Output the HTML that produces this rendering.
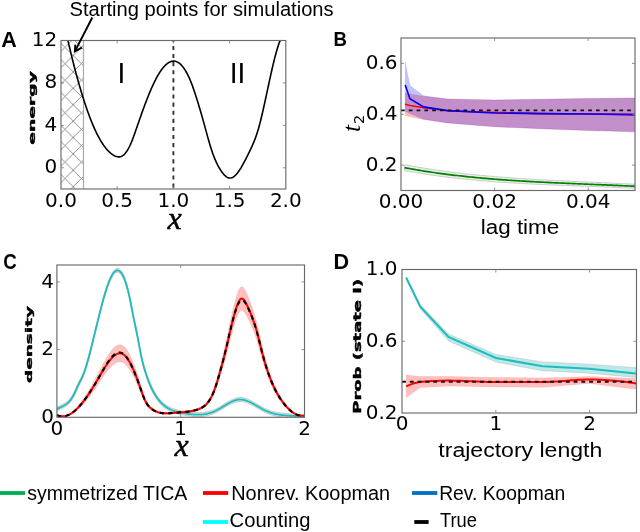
<!DOCTYPE html>
<html><head><meta charset="utf-8"><title>Figure</title>
<style>html,body{margin:0;padding:0;background:#fff;width:640px;height:532px;overflow:hidden}svg{display:block}</style>
</head><body>
<svg width="640" height="532" viewBox="0 0 640 532"><defs><pattern id="hat" patternUnits="userSpaceOnUse" width="16.4" height="16.4" x="56.8" y="55.5"><path d="M0,0L16.4,16.4M0,16.4L16.4,0M-1,1L1,-1M15.4,17.4L17.4,15.4" stroke="#7a7a7a" stroke-width="0.85" fill="none"/></pattern><clipPath id="clipA"><rect x="61" y="40.5" width="224.8" height="148.5"/></clipPath><clipPath id="clipB"><rect x="401" y="38" width="234" height="152.5"/></clipPath><clipPath id="clipC"><rect x="56.9" y="265" width="247.6" height="152.3"/></clipPath><clipPath id="clipD"><rect x="402" y="269.5" width="234.5" height="143.5"/></clipPath></defs>
<rect x="61" y="40.5" width="22.480000000000004" height="148.5" fill="url(#hat)" stroke="none"/>
<path d="M83.48,40.5V189" stroke="#aaa" stroke-width="1.2"/>
<path d="M64.00,23.10 L64.55,25.61 L65.10,28.10 L65.65,30.56 L66.20,33.01 L66.74,35.44 L67.29,37.85 L67.84,40.23 L68.39,42.60 L68.94,44.94 L69.49,47.26 L70.04,49.56 L70.59,51.84 L71.14,54.10 L71.68,56.33 L72.23,58.55 L72.78,60.74 L73.33,62.91 L73.88,65.06 L74.43,67.18 L74.98,69.29 L75.53,71.37 L76.08,73.43 L76.62,75.46 L77.17,77.47 L77.72,79.46 L78.27,81.43 L78.82,83.37 L79.37,85.29 L79.92,87.19 L80.47,89.06 L81.02,90.91 L81.56,92.74 L82.11,94.54 L82.66,96.32 L83.21,98.07 L83.76,99.80 L84.31,101.51 L84.86,103.19 L85.41,104.84 L85.95,106.48 L86.50,108.08 L87.05,109.67 L87.60,111.22 L88.15,112.76 L88.70,114.26 L89.25,115.75 L89.80,117.20 L90.35,118.64 L90.89,120.04 L91.44,121.42 L91.99,122.78 L92.54,124.10 L93.09,125.41 L93.64,126.68 L94.19,127.93 L94.74,129.16 L95.29,130.35 L95.83,131.52 L96.38,132.67 L96.93,133.78 L97.48,134.87 L98.03,135.94 L98.58,136.97 L99.13,137.98 L99.68,138.97 L100.23,139.92 L100.77,140.86 L101.32,141.76 L101.87,142.64 L102.42,143.49 L102.97,144.31 L103.52,145.11 L104.07,145.89 L104.62,146.63 L105.17,147.35 L105.71,148.05 L106.26,148.72 L106.81,149.36 L107.36,149.98 L107.91,150.58 L108.46,151.14 L109.01,151.69 L109.56,152.20 L110.11,152.69 L110.65,153.16 L111.20,153.60 L111.75,154.02 L112.30,154.41 L112.85,154.78 L113.40,155.12 L113.95,155.44 L114.50,155.73 L115.05,155.99 L115.59,156.23 L116.14,156.43 L116.69,156.60 L117.24,156.74 L117.79,156.83 L118.34,156.89 L118.89,156.90 L119.44,156.87 L119.98,156.80 L120.53,156.67 L121.08,156.49 L121.63,156.27 L122.18,155.98 L122.73,155.64 L123.28,155.24 L123.83,154.78 L124.38,154.26 L124.92,153.68 L125.47,153.04 L126.02,152.34 L126.57,151.58 L127.12,150.76 L127.67,149.88 L128.22,148.94 L128.77,147.93 L129.32,146.86 L129.86,145.74 L130.41,144.55 L130.96,143.30 L131.51,141.99 L132.06,140.63 L132.61,139.22 L133.16,137.76 L133.71,136.28 L134.26,134.76 L134.80,133.22 L135.35,131.66 L135.90,130.08 L136.45,128.50 L137.00,126.92 L137.55,125.34 L138.10,123.76 L138.65,122.19 L139.20,120.62 L139.74,119.05 L140.29,117.49 L140.84,115.93 L141.39,114.39 L141.94,112.85 L142.49,111.32 L143.04,109.80 L143.59,108.29 L144.14,106.79 L144.68,105.30 L145.23,103.83 L145.78,102.37 L146.33,100.93 L146.88,99.51 L147.43,98.10 L147.98,96.71 L148.53,95.34 L149.08,93.98 L149.62,92.65 L150.17,91.34 L150.72,90.06 L151.27,88.79 L151.82,87.55 L152.37,86.33 L152.92,85.14 L153.47,83.97 L154.02,82.82 L154.56,81.70 L155.11,80.60 L155.66,79.53 L156.21,78.48 L156.76,77.47 L157.31,76.47 L157.86,75.51 L158.41,74.57 L158.95,73.66 L159.50,72.78 L160.05,71.93 L160.60,71.11 L161.15,70.31 L161.70,69.55 L162.25,68.81 L162.80,68.11 L163.35,67.44 L163.89,66.80 L164.44,66.19 L164.99,65.61 L165.54,65.07 L166.09,64.56 L166.64,64.08 L167.19,63.64 L167.74,63.23 L168.29,62.86 L168.83,62.52 L169.38,62.21 L169.93,61.94 L170.48,61.71 L171.03,61.52 L171.58,61.36 L172.13,61.24 L172.68,61.15 L173.23,61.11 L173.77,61.10 L174.32,61.13 L174.87,61.20 L175.42,61.31 L175.97,61.46 L176.52,61.65 L177.07,61.88 L177.62,62.15 L178.17,62.46 L178.71,62.82 L179.26,63.21 L179.81,63.65 L180.36,64.12 L180.91,64.64 L181.46,65.21 L182.01,65.81 L182.56,66.46 L183.11,67.15 L183.65,67.89 L184.20,68.67 L184.75,69.49 L185.30,70.36 L185.85,71.27 L186.40,72.23 L186.95,73.23 L187.50,74.28 L188.05,75.38 L188.59,76.52 L189.14,77.71 L189.69,78.94 L190.24,80.23 L190.79,81.56 L191.34,82.93 L191.89,84.36 L192.44,85.83 L192.98,87.36 L193.53,88.93 L194.08,90.55 L194.63,92.21 L195.18,93.90 L195.73,95.61 L196.28,97.32 L196.83,99.05 L197.38,100.80 L197.92,102.57 L198.47,104.35 L199.02,106.15 L199.57,107.98 L200.12,109.82 L200.67,111.69 L201.22,113.59 L201.77,115.50 L202.32,117.44 L202.86,119.40 L203.41,121.38 L203.96,123.37 L204.51,125.37 L205.06,127.37 L205.61,129.38 L206.16,131.38 L206.71,133.39 L207.26,135.38 L207.80,137.35 L208.35,139.31 L208.90,141.23 L209.45,143.12 L210.00,144.97 L210.55,146.77 L211.10,148.52 L211.65,150.21 L212.20,151.84 L212.74,153.41 L213.29,154.92 L213.84,156.37 L214.39,157.77 L214.94,159.11 L215.49,160.39 L216.04,161.63 L216.59,162.81 L217.14,163.95 L217.68,165.04 L218.23,166.08 L218.78,167.07 L219.33,168.03 L219.88,168.94 L220.43,169.81 L220.98,170.64 L221.53,171.44 L222.08,172.20 L222.62,172.92 L223.17,173.61 L223.72,174.25 L224.27,174.86 L224.82,175.42 L225.37,175.93 L225.92,176.39 L226.47,176.80 L227.02,177.16 L227.56,177.46 L228.11,177.70 L228.66,177.88 L229.21,178.00 L229.76,178.05 L230.31,178.04 L230.86,177.97 L231.41,177.84 L231.95,177.65 L232.50,177.41 L233.05,177.11 L233.60,176.76 L234.15,176.35 L234.70,175.90 L235.25,175.40 L235.80,174.86 L236.35,174.27 L236.89,173.64 L237.44,172.97 L237.99,172.26 L238.54,171.52 L239.09,170.74 L239.64,169.92 L240.19,169.08 L240.74,168.21 L241.29,167.31 L241.83,166.38 L242.38,165.43 L242.93,164.45 L243.48,163.46 L244.03,162.45 L244.58,161.42 L245.13,160.37 L245.68,159.31 L246.23,158.23 L246.77,157.14 L247.32,156.04 L247.87,154.92 L248.42,153.80 L248.97,152.67 L249.52,151.53 L250.07,150.39 L250.62,149.24 L251.17,148.08 L251.71,146.90 L252.26,145.69 L252.81,144.46 L253.36,143.19 L253.91,141.88 L254.46,140.53 L255.01,139.11 L255.56,137.64 L256.11,136.10 L256.65,134.49 L257.20,132.79 L257.75,131.02 L258.30,129.15 L258.85,127.22 L259.40,125.20 L259.95,123.12 L260.50,120.97 L261.05,118.77 L261.59,116.51 L262.14,114.20 L262.69,111.84 L263.24,109.44 L263.79,107.01 L264.34,104.54 L264.89,102.05 L265.44,99.53 L265.98,97.00 L266.53,94.45 L267.08,91.90 L267.63,89.34 L268.18,86.78 L268.73,84.23 L269.28,81.69 L269.83,79.17 L270.38,76.66 L270.92,74.18 L271.47,71.72 L272.02,69.30 L272.57,66.92 L273.12,64.59 L273.67,62.29 L274.22,60.06 L274.77,57.88 L275.32,55.76 L275.86,53.70 L276.41,51.72 L276.96,49.81 L277.51,47.99 L278.06,46.25 L278.61,44.60 L279.16,43.04 L279.71,41.58 L280.26,40.23 L280.80,38.98 L281.35,37.85 L281.90,36.83 L282.45,35.94 L283.00,35.17" stroke="#000" stroke-width="1.6" fill="none" clip-path="url(#clipA)"/>
<path d="M173.40,40.5V189" stroke="#333" stroke-width="1.9" stroke-dasharray="4.1,4" stroke-dashoffset="2.7"/>
<rect x="61" y="40.5" width="224.8" height="148.5" fill="none" stroke="#6a6a6a" stroke-width="1.15"/>
<path d="M117.2,189v-3M117.2,40.5v3" stroke="#777" stroke-width="0.8"/>
<path d="M173.4,189v-3M173.4,40.5v3" stroke="#777" stroke-width="0.8"/>
<path d="M229.60000000000002,189v-3M229.60000000000002,40.5v3" stroke="#777" stroke-width="0.8"/>
<path d="M61,167.78571428571428h3M285.8,167.78571428571428h-3" stroke="#777" stroke-width="0.8"/>
<path d="M61,125.35714285714286h3M285.8,125.35714285714286h-3" stroke="#777" stroke-width="0.8"/>
<path d="M61,82.92857142857143h3M285.8,82.92857142857143h-3" stroke="#777" stroke-width="0.8"/>
<text x="61.00" y="207.2" font-family="'DejaVu Sans', sans-serif" font-size="20" text-anchor="middle" >0.0</text>
<text x="117.20" y="207.2" font-family="'DejaVu Sans', sans-serif" font-size="20" text-anchor="middle" >0.5</text>
<text x="173.40" y="207.2" font-family="'DejaVu Sans', sans-serif" font-size="20" text-anchor="middle" >1.0</text>
<text x="229.60" y="207.2" font-family="'DejaVu Sans', sans-serif" font-size="20" text-anchor="middle" >1.5</text>
<text x="285.80" y="207.2" font-family="'DejaVu Sans', sans-serif" font-size="20" text-anchor="middle" >2.0</text>
<text x="57.2" y="46.00" font-family="'DejaVu Sans', sans-serif" font-size="20" text-anchor="end" >12</text>
<text x="57.2" y="88.43" font-family="'DejaVu Sans', sans-serif" font-size="20" text-anchor="end" >8</text>
<text x="57.2" y="130.86" font-family="'DejaVu Sans', sans-serif" font-size="20" text-anchor="end" >4</text>
<text x="57.2" y="173.29" font-family="'DejaVu Sans', sans-serif" font-size="20" text-anchor="end" >0</text>
<text x="174.5" y="228.5" font-family="'Liberation Serif', serif" font-size="32" text-anchor="middle" font-style="italic" stroke="#000" stroke-width="0.45">x</text>
<text x="121.3" y="82.8" font-family="'DejaVu Sans', sans-serif" font-size="26.5" text-anchor="middle" >I</text>
<text x="237.6" y="82.8" font-family="'DejaVu Sans', sans-serif" font-size="26.5" text-anchor="middle" >II</text>
<text transform="translate(34.8,107.9) rotate(-90) scale(0.94,0.46)" font-family="'DejaVu Sans', sans-serif" font-weight="bold" font-size="20" text-anchor="middle" stroke="#000" stroke-width="0.8">energy</text>
<path d="M92.3,17.5L74.9,51.4" stroke="#000" stroke-width="1.9" fill="none"/>
<path d="M75.3,44.6L74.9,51.4L81.9,47.6" stroke="#000" stroke-width="1.9" fill="none"/>
<text x="69.6" y="15.6" font-family="'Liberation Sans', sans-serif" font-size="19.5" text-anchor="start" textLength="264" lengthAdjust="spacingAndGlyphs">Starting points for simulations</text>
<text x="1.2" y="47" font-family="'Liberation Sans', sans-serif" font-size="21.5" text-anchor="start" font-weight="bold">A</text>
<path d="M405.20,93.00 L409.90,94.00 L423.50,96.20 L447.60,99.00 L494.60,100.00 L541.60,99.20 L588.60,98.50 L635.00,98.00 L635.00,131.80 L588.60,130.50 L541.60,128.80 L494.60,126.80 L447.60,123.00 L423.50,119.60 L409.90,116.80 L405.20,115.60Z" fill="#ff0000" fill-opacity="0.267" stroke="#ff0000" stroke-opacity="0.1602" stroke-width="0.6" clip-path="url(#clipB)"/>
<path d="M405.20,62.00 L409.90,85.50 L423.50,95.80 L447.60,99.00 L494.60,100.00 L541.60,99.20 L588.60,98.50 L635.00,98.00 L635.00,131.80 L588.60,130.50 L541.60,128.80 L494.60,126.80 L447.60,123.00 L423.50,119.20 L409.90,113.50 L405.20,111.20Z" fill="#0000ff" fill-opacity="0.235" stroke="#0000ff" stroke-opacity="0.141" stroke-width="0.6" clip-path="url(#clipB)"/>
<path d="M404.60,164.70 L406.54,165.07 L408.47,165.43 L410.41,165.79 L412.34,166.14 L414.28,166.48 L416.22,166.82 L418.15,167.16 L420.09,167.48 L422.03,167.81 L423.96,168.12 L425.90,168.44 L427.83,168.74 L429.77,169.04 L431.71,169.34 L433.64,169.63 L435.58,169.92 L437.51,170.20 L439.45,170.47 L441.39,170.75 L443.32,171.01 L445.26,171.27 L447.19,171.53 L449.13,171.78 L451.07,172.03 L453.00,172.28 L454.94,172.52 L456.88,172.75 L458.81,172.98 L460.75,173.21 L462.68,173.43 L464.62,173.65 L466.56,173.86 L468.49,174.08 L470.43,174.28 L472.36,174.48 L474.30,174.68 L476.24,174.88 L478.17,175.07 L480.11,175.26 L482.05,175.44 L483.98,175.62 L485.92,175.80 L487.85,175.98 L489.79,176.15 L491.73,176.32 L493.66,176.48 L495.60,176.64 L497.53,176.80 L499.47,176.96 L501.41,177.11 L503.34,177.26 L505.28,177.41 L507.22,177.55 L509.15,177.70 L511.09,177.84 L513.02,177.97 L514.96,178.11 L516.90,178.24 L518.83,178.37 L520.77,178.50 L522.70,178.62 L524.64,178.75 L526.58,178.87 L528.51,178.99 L530.45,179.11 L532.38,179.22 L534.32,179.33 L536.26,179.45 L538.19,179.56 L540.13,179.67 L542.07,179.77 L544.00,179.88 L545.94,179.98 L547.87,180.09 L549.81,180.19 L551.75,180.29 L553.68,180.39 L555.62,180.48 L557.55,180.58 L559.49,180.68 L561.43,180.77 L563.36,180.87 L565.30,180.96 L567.24,181.05 L569.17,181.14 L571.11,181.23 L573.04,181.33 L574.98,181.42 L576.92,181.51 L578.85,181.59 L580.79,181.68 L582.72,181.77 L584.66,181.86 L586.60,181.95 L588.53,182.04 L590.47,182.13 L592.41,182.22 L594.34,182.30 L596.28,182.39 L598.21,182.48 L600.15,182.57 L602.09,182.66 L604.02,182.75 L605.96,182.84 L607.89,182.93 L609.83,183.02 L611.77,183.12 L613.70,183.21 L615.64,183.30 L617.57,183.40 L619.51,183.50 L621.45,183.59 L623.38,183.69 L625.32,183.79 L627.26,183.89 L629.19,183.99 L631.13,184.09 L633.06,184.20 L635.00,184.31 L635.00,188.30 L633.06,188.21 L631.13,188.12 L629.19,188.03 L627.26,187.95 L625.32,187.87 L623.38,187.78 L621.45,187.70 L619.51,187.62 L617.57,187.54 L615.64,187.46 L613.70,187.39 L611.77,187.31 L609.83,187.23 L607.89,187.16 L605.96,187.09 L604.02,187.01 L602.09,186.94 L600.15,186.87 L598.21,186.79 L596.28,186.72 L594.34,186.65 L592.41,186.58 L590.47,186.51 L588.53,186.43 L586.60,186.36 L584.66,186.29 L582.72,186.22 L580.79,186.15 L578.85,186.07 L576.92,186.00 L574.98,185.93 L573.04,185.86 L571.11,185.78 L569.17,185.71 L567.24,185.63 L565.30,185.56 L563.36,185.48 L561.43,185.40 L559.49,185.33 L557.55,185.25 L555.62,185.17 L553.68,185.08 L551.75,185.00 L549.81,184.92 L547.87,184.83 L545.94,184.75 L544.00,184.66 L542.07,184.57 L540.13,184.48 L538.19,184.39 L536.26,184.30 L534.32,184.20 L532.38,184.10 L530.45,184.01 L528.51,183.91 L526.58,183.80 L524.64,183.70 L522.70,183.59 L520.77,183.48 L518.83,183.37 L516.90,183.26 L514.96,183.14 L513.02,183.03 L511.09,182.91 L509.15,182.78 L507.22,182.66 L505.28,182.53 L503.34,182.40 L501.41,182.26 L499.47,182.13 L497.53,181.99 L495.60,181.85 L493.66,181.70 L491.73,181.55 L489.79,181.40 L487.85,181.25 L485.92,181.09 L483.98,180.93 L482.05,180.77 L480.11,180.60 L478.17,180.43 L476.24,180.25 L474.30,180.07 L472.36,179.89 L470.43,179.70 L468.49,179.51 L466.56,179.32 L464.62,179.12 L462.68,178.92 L460.75,178.72 L458.81,178.51 L456.88,178.29 L454.94,178.07 L453.00,177.85 L451.07,177.62 L449.13,177.39 L447.19,177.16 L445.26,176.92 L443.32,176.67 L441.39,176.42 L439.45,176.17 L437.51,175.91 L435.58,175.64 L433.64,175.37 L431.71,175.10 L429.77,174.82 L427.83,174.54 L425.90,174.25 L423.96,173.95 L422.03,173.65 L420.09,173.34 L418.15,173.03 L416.22,172.72 L414.28,172.39 L412.34,172.07 L410.41,171.73 L408.47,171.39 L406.54,171.05 L404.60,170.70Z" fill="#d8e8d8" fill-opacity="0.6" stroke="#b8b8b8" stroke-width="0.7" clip-path="url(#clipB)"/>
<path d="M404.60,167.70 L406.54,168.06 L408.47,168.41 L410.41,168.76 L412.34,169.10 L414.28,169.44 L416.22,169.77 L418.15,170.10 L420.09,170.41 L422.03,170.73 L423.96,171.04 L425.90,171.34 L427.83,171.64 L429.77,171.93 L431.71,172.22 L433.64,172.50 L435.58,172.78 L437.51,173.05 L439.45,173.32 L441.39,173.58 L443.32,173.84 L445.26,174.10 L447.19,174.34 L449.13,174.59 L451.07,174.83 L453.00,175.06 L454.94,175.29 L456.88,175.52 L458.81,175.74 L460.75,175.96 L462.68,176.18 L464.62,176.39 L466.56,176.59 L468.49,176.79 L470.43,176.99 L472.36,177.19 L474.30,177.38 L476.24,177.56 L478.17,177.75 L480.11,177.93 L482.05,178.10 L483.98,178.28 L485.92,178.45 L487.85,178.61 L489.79,178.78 L491.73,178.94 L493.66,179.09 L495.60,179.25 L497.53,179.40 L499.47,179.54 L501.41,179.69 L503.34,179.83 L505.28,179.97 L507.22,180.11 L509.15,180.24 L511.09,180.37 L513.02,180.50 L514.96,180.63 L516.90,180.75 L518.83,180.87 L520.77,180.99 L522.70,181.11 L524.64,181.22 L526.58,181.34 L528.51,181.45 L530.45,181.56 L532.38,181.66 L534.32,181.77 L536.26,181.87 L538.19,181.97 L540.13,182.07 L542.07,182.17 L544.00,182.27 L545.94,182.37 L547.87,182.46 L549.81,182.55 L551.75,182.65 L553.68,182.74 L555.62,182.83 L557.55,182.91 L559.49,183.00 L561.43,183.09 L563.36,183.17 L565.30,183.26 L567.24,183.34 L569.17,183.43 L571.11,183.51 L573.04,183.59 L574.98,183.67 L576.92,183.75 L578.85,183.83 L580.79,183.92 L582.72,184.00 L584.66,184.08 L586.60,184.16 L588.53,184.24 L590.47,184.32 L592.41,184.40 L594.34,184.48 L596.28,184.56 L598.21,184.64 L600.15,184.72 L602.09,184.80 L604.02,184.88 L605.96,184.96 L607.89,185.05 L609.83,185.13 L611.77,185.21 L613.70,185.30 L615.64,185.38 L617.57,185.47 L619.51,185.56 L621.45,185.65 L623.38,185.74 L625.32,185.83 L627.26,185.92 L629.19,186.01 L631.13,186.11 L633.06,186.20 L635.00,186.30" stroke="#008000" stroke-width="1.7" fill="none" clip-path="url(#clipB)"/>
<path d="M405.00,104.30 L410.00,105.50 L423.80,107.80 L447.60,110.80 L494.60,112.50 L541.60,113.60 L588.60,114.00 L635.00,114.60" stroke="#ff0000" stroke-width="1.6" fill="none" clip-path="url(#clipB)"/>
<path d="M405.20,85.00 L409.90,98.70 L423.60,106.90 L447.60,110.60 L494.60,113.00 L541.60,113.60 L588.60,114.00 L635.00,114.60" stroke="#0000ff" stroke-width="1.6" fill="none" clip-path="url(#clipB)"/>
<path d="M401,110.4H635" stroke="#111" stroke-width="1.9" stroke-dasharray="3.7,4.1"/>
<rect x="401" y="38" width="234" height="152.5" fill="none" stroke="#6a6a6a" stroke-width="1.15"/>
<path d="M494.6,190.5v-3M494.6,38v3" stroke="#777" stroke-width="0.8"/>
<path d="M588.2,190.5v-3M588.2,38v3" stroke="#777" stroke-width="0.8"/>
<path d="M401,165.08333333333331h3M635,165.08333333333331h-3" stroke="#777" stroke-width="0.8"/>
<path d="M401,114.24999999999999h3M635,114.24999999999999h-3" stroke="#777" stroke-width="0.8"/>
<path d="M401,63.41666666666666h3M635,63.41666666666666h-3" stroke="#777" stroke-width="0.8"/>
<text x="401.00" y="208" font-family="'DejaVu Sans', sans-serif" font-size="20" text-anchor="middle" >0.00</text>
<text x="494.60" y="208" font-family="'DejaVu Sans', sans-serif" font-size="20" text-anchor="middle" >0.02</text>
<text x="588.20" y="208" font-family="'DejaVu Sans', sans-serif" font-size="20" text-anchor="middle" >0.04</text>
<text x="397.5" y="68.92" font-family="'DejaVu Sans', sans-serif" font-size="20" text-anchor="end" >0.6</text>
<text x="397.5" y="119.75" font-family="'DejaVu Sans', sans-serif" font-size="20" text-anchor="end" >0.4</text>
<text x="397.5" y="170.58" font-family="'DejaVu Sans', sans-serif" font-size="20" text-anchor="end" >0.2</text>
<text x="520" y="234" font-family="'Liberation Sans', sans-serif" font-size="20" text-anchor="middle" textLength="78.4" lengthAdjust="spacingAndGlyphs">lag time</text>
<text transform="translate(359.6,132) rotate(-90)" font-family="'Liberation Serif', serif" font-style="italic" font-size="25.5"><tspan x="0" y="0">t</tspan><tspan x="8.1" y="4.2" font-size="14.4" font-style="normal" font-family="'DejaVu Sans', sans-serif">2</tspan></text>
<text x="333.5" y="46.4" font-family="'Liberation Sans', sans-serif" font-size="21" text-anchor="start" font-weight="bold" textLength="13.5" lengthAdjust="spacingAndGlyphs">B</text>
<path d="M56.90,407.33 L57.52,406.95 L58.14,406.59 L58.76,406.25 L59.38,405.93 L60.00,405.62 L60.62,405.32 L61.24,405.03 L61.86,404.73 L62.48,404.43 L63.11,404.12 L63.73,403.79 L64.35,403.44 L64.97,403.08 L65.59,402.68 L66.21,402.25 L66.83,401.79 L67.45,401.28 L68.07,400.73 L68.69,400.13 L69.31,399.47 L69.93,398.76 L70.55,397.98 L71.17,397.14 L71.79,396.22 L72.41,395.22 L73.03,394.15 L73.65,392.99 L74.28,391.77 L74.90,390.49 L75.52,389.17 L76.14,387.82 L76.76,386.46 L77.38,385.09 L78.00,383.74 L78.62,382.40 L79.24,381.11 L79.86,379.87 L80.48,378.67 L81.10,377.49 L81.72,376.27 L82.34,374.98 L82.96,373.58 L83.58,372.06 L84.20,370.40 L84.82,368.62 L85.45,366.72 L86.07,364.73 L86.69,362.66 L87.31,360.52 L87.93,358.32 L88.55,356.06 L89.17,353.75 L89.79,351.39 L90.41,349.00 L91.03,346.56 L91.65,344.09 L92.27,341.60 L92.89,339.09 L93.51,336.55 L94.13,334.01 L94.75,331.46 L95.37,328.90 L95.99,326.34 L96.62,323.78 L97.24,321.24 L97.86,318.70 L98.48,316.18 L99.10,313.69 L99.72,311.21 L100.34,308.77 L100.96,306.35 L101.58,303.98 L102.20,301.64 L102.82,299.35 L103.44,297.11 L104.06,294.92 L104.68,292.79 L105.30,290.72 L105.92,288.72 L106.54,286.79 L107.16,284.93 L107.79,283.15 L108.41,281.45 L109.03,279.84 L109.65,278.32 L110.27,276.89 L110.89,275.56 L111.51,274.34 L112.13,273.22 L112.75,272.21 L113.37,271.32 L113.99,270.55 L114.61,269.89 L115.23,269.36 L115.85,268.96 L116.47,268.68 L117.09,268.52 L117.71,268.50 L118.33,268.61 L118.96,268.85 L119.58,269.23 L120.20,269.74 L120.82,270.40 L121.44,271.19 L122.06,272.13 L122.68,273.21 L123.30,274.44 L123.92,275.81 L124.54,277.34 L125.16,279.02 L125.78,280.85 L126.40,282.84 L127.02,284.98 L127.64,287.29 L128.26,289.75 L128.88,292.38 L129.50,295.18 L130.13,298.14 L130.75,301.25 L131.37,304.44 L131.99,307.66 L132.61,310.83 L133.23,313.93 L133.85,316.97 L134.47,319.96 L135.09,322.91 L135.71,325.84 L136.33,328.80 L136.95,331.81 L137.57,334.92 L138.19,338.16 L138.81,341.50 L139.43,344.89 L140.05,348.25 L140.67,351.50 L141.29,354.57 L141.92,357.40 L142.54,360.03 L143.16,362.46 L143.78,364.74 L144.40,366.88 L145.02,368.92 L145.64,370.89 L146.26,372.78 L146.88,374.61 L147.50,376.36 L148.12,378.05 L148.74,379.67 L149.36,381.23 L149.98,382.72 L150.60,384.16 L151.22,385.54 L151.84,386.85 L152.46,388.12 L153.09,389.33 L153.71,390.48 L154.33,391.59 L154.95,392.64 L155.57,393.65 L156.19,394.61 L156.81,395.53 L157.43,396.40 L158.05,397.24 L158.67,398.03 L159.29,398.79 L159.91,399.50 L160.53,400.19 L161.15,400.84 L161.77,401.46 L162.39,402.05 L163.01,402.61 L163.63,403.14 L164.26,403.65 L164.88,404.14 L165.50,404.60 L166.12,405.04 L166.74,405.46 L167.36,405.85 L167.98,406.23 L168.60,406.59 L169.22,406.92 L169.84,407.24 L170.46,407.54 L171.08,407.83 L171.70,408.10 L172.32,408.35 L172.94,408.59 L173.56,408.82 L174.18,409.03 L174.80,409.24 L175.43,409.43 L176.05,409.61 L176.67,409.78 L177.29,409.94 L177.91,410.09 L178.53,410.24 L179.15,410.37 L179.77,410.51 L180.39,410.64 L181.01,410.76 L181.63,410.88 L182.25,410.99 L182.87,411.11 L183.49,411.22 L184.11,411.33 L184.73,411.44 L185.35,411.55 L185.97,411.65 L186.60,411.75 L187.22,411.84 L187.84,411.94 L188.46,412.02 L189.08,412.11 L189.70,412.19 L190.32,412.27 L190.94,412.34 L191.56,412.40 L192.18,412.47 L192.80,412.52 L193.42,412.57 L194.04,412.62 L194.66,412.66 L195.28,412.69 L195.90,412.72 L196.52,412.74 L197.14,412.75 L197.77,412.76 L198.39,412.75 L199.01,412.75 L199.63,412.73 L200.25,412.71 L200.87,412.67 L201.49,412.63 L202.11,412.58 L202.73,412.52 L203.35,412.46 L203.97,412.38 L204.59,412.29 L205.21,412.20 L205.83,412.09 L206.45,411.98 L207.07,411.85 L207.69,411.72 L208.31,411.57 L208.94,411.41 L209.56,411.24 L210.18,411.06 L210.80,410.87 L211.42,410.66 L212.04,410.44 L212.66,410.21 L213.28,409.97 L213.90,409.72 L214.52,409.45 L215.14,409.17 L215.76,408.88 L216.38,408.57 L217.00,408.25 L217.62,407.92 L218.24,407.58 L218.86,407.23 L219.48,406.87 L220.11,406.51 L220.73,406.14 L221.35,405.77 L221.97,405.39 L222.59,405.01 L223.21,404.62 L223.83,404.24 L224.45,403.86 L225.07,403.48 L225.69,403.10 L226.31,402.73 L226.93,402.36 L227.55,402.00 L228.17,401.64 L228.79,401.29 L229.41,400.95 L230.03,400.62 L230.65,400.31 L231.27,400.00 L231.90,399.71 L232.52,399.43 L233.14,399.17 L233.76,398.92 L234.38,398.69 L235.00,398.48 L235.62,398.29 L236.24,398.12 L236.86,397.97 L237.48,397.85 L238.10,397.75 L238.72,397.67 L239.34,397.62 L239.96,397.59 L240.58,397.60 L241.20,397.63 L241.82,397.68 L242.44,397.75 L243.07,397.85 L243.69,397.98 L244.31,398.12 L244.93,398.28 L245.55,398.46 L246.17,398.66 L246.79,398.88 L247.41,399.11 L248.03,399.36 L248.65,399.62 L249.27,399.89 L249.89,400.18 L250.51,400.48 L251.13,400.79 L251.75,401.11 L252.37,401.44 L252.99,401.78 L253.61,402.12 L254.24,402.47 L254.86,402.83 L255.48,403.19 L256.10,403.55 L256.72,403.91 L257.34,404.28 L257.96,404.64 L258.58,405.01 L259.20,405.37 L259.82,405.73 L260.44,406.09 L261.06,406.44 L261.68,406.79 L262.30,407.13 L262.92,407.47 L263.54,407.79 L264.16,408.11 L264.78,408.42 L265.41,408.71 L266.03,409.00 L266.65,409.27 L267.27,409.53 L267.89,409.79 L268.51,410.03 L269.13,410.26 L269.75,410.48 L270.37,410.69 L270.99,410.89 L271.61,411.08 L272.23,411.27 L272.85,411.44 L273.47,411.61 L274.09,411.76 L274.71,411.91 L275.33,412.05 L275.95,412.19 L276.58,412.32 L277.20,412.44 L277.82,412.55 L278.44,412.66 L279.06,412.76 L279.68,412.85 L280.30,412.94 L280.92,413.03 L281.54,413.11 L282.16,413.18 L282.78,413.25 L283.40,413.31 L284.02,413.38 L284.64,413.43 L285.26,413.49 L285.88,413.54 L286.50,413.59 L287.12,413.63 L287.75,413.68 L288.37,413.72 L288.99,413.75 L289.61,413.79 L290.23,413.83 L290.85,413.86 L291.47,413.90 L292.09,413.93 L292.71,413.96 L293.33,413.99 L293.95,414.03 L294.57,414.06 L295.19,414.09 L295.81,414.13 L296.43,414.16 L297.05,414.20 L297.67,414.24 L298.29,414.28 L298.92,414.33 L299.54,414.37 L300.16,414.42 L300.78,414.47 L301.40,414.53 L302.02,414.59 L302.64,414.65 L303.26,414.72 L303.88,414.79 L304.50,414.86 L304.50,418.66 L303.88,418.59 L303.26,418.52 L302.64,418.45 L302.02,418.39 L301.40,418.33 L300.78,418.27 L300.16,418.22 L299.54,418.17 L298.92,418.13 L298.29,418.08 L297.67,418.04 L297.05,418.00 L296.43,417.96 L295.81,417.93 L295.19,417.89 L294.57,417.86 L293.95,417.83 L293.33,417.79 L292.71,417.76 L292.09,417.73 L291.47,417.70 L290.85,417.66 L290.23,417.63 L289.61,417.59 L288.99,417.55 L288.37,417.52 L287.75,417.48 L287.12,417.43 L286.50,417.39 L285.88,417.34 L285.26,417.29 L284.64,417.23 L284.02,417.18 L283.40,417.11 L282.78,417.05 L282.16,416.98 L281.54,416.91 L280.92,416.83 L280.30,416.74 L279.68,416.65 L279.06,416.56 L278.44,416.46 L277.82,416.35 L277.20,416.24 L276.58,416.12 L275.95,415.99 L275.33,415.85 L274.71,415.71 L274.09,415.56 L273.47,415.41 L272.85,415.24 L272.23,415.07 L271.61,414.88 L270.99,414.69 L270.37,414.49 L269.75,414.28 L269.13,414.06 L268.51,413.83 L267.89,413.59 L267.27,413.33 L266.65,413.07 L266.03,412.80 L265.41,412.51 L264.78,412.22 L264.16,411.91 L263.54,411.59 L262.92,411.27 L262.30,410.93 L261.68,410.59 L261.06,410.24 L260.44,409.89 L259.82,409.53 L259.20,409.17 L258.58,408.81 L257.96,408.44 L257.34,408.08 L256.72,407.71 L256.10,407.35 L255.48,406.99 L254.86,406.63 L254.24,406.27 L253.61,405.92 L252.99,405.58 L252.37,405.24 L251.75,404.91 L251.13,404.59 L250.51,404.28 L249.89,403.98 L249.27,403.69 L248.65,403.42 L248.03,403.16 L247.41,402.91 L246.79,402.68 L246.17,402.46 L245.55,402.26 L244.93,402.08 L244.31,401.92 L243.69,401.78 L243.07,401.65 L242.44,401.55 L241.82,401.48 L241.20,401.43 L240.58,401.40 L239.96,401.39 L239.34,401.42 L238.72,401.47 L238.10,401.55 L237.48,401.65 L236.86,401.77 L236.24,401.92 L235.62,402.09 L235.00,402.28 L234.38,402.49 L233.76,402.72 L233.14,402.97 L232.52,403.23 L231.90,403.51 L231.27,403.80 L230.65,404.11 L230.03,404.42 L229.41,404.75 L228.79,405.09 L228.17,405.44 L227.55,405.80 L226.93,406.16 L226.31,406.53 L225.69,406.90 L225.07,407.28 L224.45,407.66 L223.83,408.04 L223.21,408.42 L222.59,408.81 L221.97,409.19 L221.35,409.57 L220.73,409.94 L220.11,410.31 L219.48,410.67 L218.86,411.03 L218.24,411.38 L217.62,411.72 L217.00,412.05 L216.38,412.37 L215.76,412.68 L215.14,412.97 L214.52,413.25 L213.90,413.52 L213.28,413.77 L212.66,414.01 L212.04,414.24 L211.42,414.46 L210.80,414.67 L210.18,414.86 L209.56,415.04 L208.94,415.21 L208.31,415.37 L207.69,415.52 L207.07,415.65 L206.45,415.78 L205.83,415.89 L205.21,416.00 L204.59,416.09 L203.97,416.18 L203.35,416.26 L202.73,416.32 L202.11,416.38 L201.49,416.43 L200.87,416.47 L200.25,416.51 L199.63,416.53 L199.01,416.55 L198.39,416.55 L197.77,416.56 L197.14,416.55 L196.52,416.54 L195.90,416.52 L195.28,416.49 L194.66,416.46 L194.04,416.42 L193.42,416.37 L192.80,416.32 L192.18,416.27 L191.56,416.20 L190.94,416.14 L190.32,416.07 L189.70,415.99 L189.08,415.91 L188.46,415.82 L187.84,415.74 L187.22,415.64 L186.60,415.55 L185.97,415.45 L185.35,415.35 L184.73,415.24 L184.11,415.13 L183.49,415.02 L182.87,414.91 L182.25,414.79 L181.63,414.68 L181.01,414.56 L180.39,414.44 L179.77,414.31 L179.15,414.17 L178.53,414.04 L177.91,413.89 L177.29,413.74 L176.67,413.58 L176.05,413.41 L175.43,413.23 L174.80,413.04 L174.18,412.83 L173.56,412.62 L172.94,412.39 L172.32,412.15 L171.70,411.90 L171.08,411.63 L170.46,411.34 L169.84,411.04 L169.22,410.72 L168.60,410.39 L167.98,410.03 L167.36,409.65 L166.74,409.26 L166.12,408.84 L165.50,408.40 L164.88,407.94 L164.26,407.45 L163.63,406.94 L163.01,406.41 L162.39,405.85 L161.77,405.26 L161.15,404.64 L160.53,403.99 L159.91,403.30 L159.29,402.59 L158.67,401.83 L158.05,401.04 L157.43,400.20 L156.81,399.33 L156.19,398.41 L155.57,397.45 L154.95,396.44 L154.33,395.39 L153.71,394.28 L153.09,393.13 L152.46,391.92 L151.84,390.65 L151.22,389.34 L150.60,387.96 L149.98,386.52 L149.36,385.03 L148.74,383.47 L148.12,381.85 L147.50,380.16 L146.88,378.41 L146.26,376.58 L145.64,374.69 L145.02,372.72 L144.40,370.68 L143.78,368.54 L143.16,366.26 L142.54,363.83 L141.92,361.20 L141.29,358.37 L140.67,355.30 L140.05,352.05 L139.43,348.69 L138.81,345.30 L138.19,341.96 L137.57,338.72 L136.95,335.61 L136.33,332.60 L135.71,329.64 L135.09,326.71 L134.47,323.76 L133.85,320.77 L133.23,317.73 L132.61,314.63 L131.99,311.46 L131.37,308.24 L130.75,305.05 L130.13,301.94 L129.50,298.98 L128.88,296.18 L128.26,293.55 L127.64,291.09 L127.02,288.78 L126.40,286.64 L125.78,284.65 L125.16,282.82 L124.54,281.14 L123.92,279.61 L123.30,278.24 L122.68,277.01 L122.06,275.93 L121.44,274.99 L120.82,274.20 L120.20,273.54 L119.58,273.03 L118.96,272.65 L118.33,272.41 L117.71,272.30 L117.09,272.32 L116.47,272.48 L115.85,272.76 L115.23,273.16 L114.61,273.69 L113.99,274.35 L113.37,275.12 L112.75,276.01 L112.13,277.02 L111.51,278.14 L110.89,279.36 L110.27,280.69 L109.65,282.12 L109.03,283.64 L108.41,285.25 L107.79,286.95 L107.16,288.73 L106.54,290.59 L105.92,292.52 L105.30,294.52 L104.68,296.59 L104.06,298.72 L103.44,300.91 L102.82,303.15 L102.20,305.44 L101.58,307.78 L100.96,310.15 L100.34,312.57 L99.72,315.01 L99.10,317.49 L98.48,319.98 L97.86,322.50 L97.24,325.04 L96.62,327.58 L95.99,330.14 L95.37,332.70 L94.75,335.26 L94.13,337.81 L93.51,340.35 L92.89,342.89 L92.27,345.40 L91.65,347.89 L91.03,350.36 L90.41,352.80 L89.79,355.19 L89.17,357.55 L88.55,359.86 L87.93,362.12 L87.31,364.32 L86.69,366.46 L86.07,368.53 L85.45,370.52 L84.82,372.42 L84.20,374.20 L83.58,375.86 L82.96,377.38 L82.34,378.78 L81.72,380.07 L81.10,381.29 L80.48,382.47 L79.86,383.67 L79.24,384.91 L78.62,386.20 L78.00,387.54 L77.38,388.89 L76.76,390.26 L76.14,391.62 L75.52,392.97 L74.90,394.29 L74.28,395.57 L73.65,396.79 L73.03,397.95 L72.41,399.02 L71.79,400.02 L71.17,400.94 L70.55,401.78 L69.93,402.56 L69.31,403.27 L68.69,403.93 L68.07,404.53 L67.45,405.08 L66.83,405.59 L66.21,406.05 L65.59,406.48 L64.97,406.88 L64.35,407.24 L63.73,407.59 L63.11,407.92 L62.48,408.23 L61.86,408.53 L61.24,408.83 L60.62,409.12 L60.00,409.42 L59.38,409.73 L58.76,410.05 L58.14,410.39 L57.52,410.75 L56.90,411.13Z" fill="#bfe8e8" fill-opacity="0.6" stroke="#aaa" stroke-width="0.7" clip-path="url(#clipC)"/>
<path d="M56.90,409.23 L57.52,408.85 L58.14,408.49 L58.76,408.15 L59.38,407.83 L60.00,407.52 L60.62,407.22 L61.24,406.93 L61.86,406.63 L62.48,406.33 L63.11,406.02 L63.73,405.69 L64.35,405.34 L64.97,404.98 L65.59,404.58 L66.21,404.15 L66.83,403.69 L67.45,403.18 L68.07,402.63 L68.69,402.03 L69.31,401.37 L69.93,400.66 L70.55,399.88 L71.17,399.04 L71.79,398.12 L72.41,397.12 L73.03,396.05 L73.65,394.89 L74.28,393.67 L74.90,392.39 L75.52,391.07 L76.14,389.72 L76.76,388.36 L77.38,386.99 L78.00,385.64 L78.62,384.30 L79.24,383.01 L79.86,381.77 L80.48,380.57 L81.10,379.39 L81.72,378.17 L82.34,376.88 L82.96,375.48 L83.58,373.96 L84.20,372.30 L84.82,370.52 L85.45,368.62 L86.07,366.63 L86.69,364.56 L87.31,362.42 L87.93,360.22 L88.55,357.96 L89.17,355.65 L89.79,353.29 L90.41,350.90 L91.03,348.46 L91.65,345.99 L92.27,343.50 L92.89,340.99 L93.51,338.45 L94.13,335.91 L94.75,333.36 L95.37,330.80 L95.99,328.24 L96.62,325.68 L97.24,323.14 L97.86,320.60 L98.48,318.08 L99.10,315.59 L99.72,313.11 L100.34,310.67 L100.96,308.25 L101.58,305.88 L102.20,303.54 L102.82,301.25 L103.44,299.01 L104.06,296.82 L104.68,294.69 L105.30,292.62 L105.92,290.62 L106.54,288.69 L107.16,286.83 L107.79,285.05 L108.41,283.35 L109.03,281.74 L109.65,280.22 L110.27,278.79 L110.89,277.46 L111.51,276.24 L112.13,275.12 L112.75,274.11 L113.37,273.22 L113.99,272.45 L114.61,271.79 L115.23,271.26 L115.85,270.86 L116.47,270.58 L117.09,270.42 L117.71,270.40 L118.33,270.51 L118.96,270.75 L119.58,271.13 L120.20,271.64 L120.82,272.30 L121.44,273.09 L122.06,274.03 L122.68,275.11 L123.30,276.34 L123.92,277.71 L124.54,279.24 L125.16,280.92 L125.78,282.75 L126.40,284.74 L127.02,286.88 L127.64,289.19 L128.26,291.65 L128.88,294.28 L129.50,297.08 L130.13,300.04 L130.75,303.15 L131.37,306.34 L131.99,309.56 L132.61,312.73 L133.23,315.83 L133.85,318.87 L134.47,321.86 L135.09,324.81 L135.71,327.74 L136.33,330.70 L136.95,333.71 L137.57,336.82 L138.19,340.06 L138.81,343.40 L139.43,346.79 L140.05,350.15 L140.67,353.40 L141.29,356.47 L141.92,359.30 L142.54,361.93 L143.16,364.36 L143.78,366.64 L144.40,368.78 L145.02,370.82 L145.64,372.79 L146.26,374.68 L146.88,376.51 L147.50,378.26 L148.12,379.95 L148.74,381.57 L149.36,383.13 L149.98,384.62 L150.60,386.06 L151.22,387.44 L151.84,388.75 L152.46,390.02 L153.09,391.23 L153.71,392.38 L154.33,393.49 L154.95,394.54 L155.57,395.55 L156.19,396.51 L156.81,397.43 L157.43,398.30 L158.05,399.14 L158.67,399.93 L159.29,400.69 L159.91,401.40 L160.53,402.09 L161.15,402.74 L161.77,403.36 L162.39,403.95 L163.01,404.51 L163.63,405.04 L164.26,405.55 L164.88,406.04 L165.50,406.50 L166.12,406.94 L166.74,407.36 L167.36,407.75 L167.98,408.13 L168.60,408.49 L169.22,408.82 L169.84,409.14 L170.46,409.44 L171.08,409.73 L171.70,410.00 L172.32,410.25 L172.94,410.49 L173.56,410.72 L174.18,410.93 L174.80,411.14 L175.43,411.33 L176.05,411.51 L176.67,411.68 L177.29,411.84 L177.91,411.99 L178.53,412.14 L179.15,412.27 L179.77,412.41 L180.39,412.54 L181.01,412.66 L181.63,412.78 L182.25,412.89 L182.87,413.01 L183.49,413.12 L184.11,413.23 L184.73,413.34 L185.35,413.45 L185.97,413.55 L186.60,413.65 L187.22,413.74 L187.84,413.84 L188.46,413.92 L189.08,414.01 L189.70,414.09 L190.32,414.17 L190.94,414.24 L191.56,414.30 L192.18,414.37 L192.80,414.42 L193.42,414.47 L194.04,414.52 L194.66,414.56 L195.28,414.59 L195.90,414.62 L196.52,414.64 L197.14,414.65 L197.77,414.66 L198.39,414.65 L199.01,414.65 L199.63,414.63 L200.25,414.61 L200.87,414.57 L201.49,414.53 L202.11,414.48 L202.73,414.42 L203.35,414.36 L203.97,414.28 L204.59,414.19 L205.21,414.10 L205.83,413.99 L206.45,413.88 L207.07,413.75 L207.69,413.62 L208.31,413.47 L208.94,413.31 L209.56,413.14 L210.18,412.96 L210.80,412.77 L211.42,412.56 L212.04,412.34 L212.66,412.11 L213.28,411.87 L213.90,411.62 L214.52,411.35 L215.14,411.07 L215.76,410.78 L216.38,410.47 L217.00,410.15 L217.62,409.82 L218.24,409.48 L218.86,409.13 L219.48,408.77 L220.11,408.41 L220.73,408.04 L221.35,407.67 L221.97,407.29 L222.59,406.91 L223.21,406.52 L223.83,406.14 L224.45,405.76 L225.07,405.38 L225.69,405.00 L226.31,404.63 L226.93,404.26 L227.55,403.90 L228.17,403.54 L228.79,403.19 L229.41,402.85 L230.03,402.52 L230.65,402.21 L231.27,401.90 L231.90,401.61 L232.52,401.33 L233.14,401.07 L233.76,400.82 L234.38,400.59 L235.00,400.38 L235.62,400.19 L236.24,400.02 L236.86,399.87 L237.48,399.75 L238.10,399.65 L238.72,399.57 L239.34,399.52 L239.96,399.49 L240.58,399.50 L241.20,399.53 L241.82,399.58 L242.44,399.65 L243.07,399.75 L243.69,399.88 L244.31,400.02 L244.93,400.18 L245.55,400.36 L246.17,400.56 L246.79,400.78 L247.41,401.01 L248.03,401.26 L248.65,401.52 L249.27,401.79 L249.89,402.08 L250.51,402.38 L251.13,402.69 L251.75,403.01 L252.37,403.34 L252.99,403.68 L253.61,404.02 L254.24,404.37 L254.86,404.73 L255.48,405.09 L256.10,405.45 L256.72,405.81 L257.34,406.18 L257.96,406.54 L258.58,406.91 L259.20,407.27 L259.82,407.63 L260.44,407.99 L261.06,408.34 L261.68,408.69 L262.30,409.03 L262.92,409.37 L263.54,409.69 L264.16,410.01 L264.78,410.32 L265.41,410.61 L266.03,410.90 L266.65,411.17 L267.27,411.43 L267.89,411.69 L268.51,411.93 L269.13,412.16 L269.75,412.38 L270.37,412.59 L270.99,412.79 L271.61,412.98 L272.23,413.17 L272.85,413.34 L273.47,413.51 L274.09,413.66 L274.71,413.81 L275.33,413.95 L275.95,414.09 L276.58,414.22 L277.20,414.34 L277.82,414.45 L278.44,414.56 L279.06,414.66 L279.68,414.75 L280.30,414.84 L280.92,414.93 L281.54,415.01 L282.16,415.08 L282.78,415.15 L283.40,415.21 L284.02,415.28 L284.64,415.33 L285.26,415.39 L285.88,415.44 L286.50,415.49 L287.12,415.53 L287.75,415.58 L288.37,415.62 L288.99,415.65 L289.61,415.69 L290.23,415.73 L290.85,415.76 L291.47,415.80 L292.09,415.83 L292.71,415.86 L293.33,415.89 L293.95,415.93 L294.57,415.96 L295.19,415.99 L295.81,416.03 L296.43,416.06 L297.05,416.10 L297.67,416.14 L298.29,416.18 L298.92,416.23 L299.54,416.27 L300.16,416.32 L300.78,416.37 L301.40,416.43 L302.02,416.49 L302.64,416.55 L303.26,416.62 L303.88,416.69 L304.50,416.76" stroke="#22bbbb" stroke-width="1.8" fill="none" clip-path="url(#clipC)"/>
<path d="M56.90,414.18 L57.52,414.49 L58.14,414.76 L58.76,414.99 L59.38,415.18 L60.00,415.34 L60.62,415.46 L61.24,415.54 L61.86,415.59 L62.48,415.61 L63.11,415.59 L63.73,415.53 L64.35,415.44 L64.97,415.32 L65.59,415.17 L66.21,414.98 L66.83,414.76 L67.45,414.51 L68.07,414.23 L68.69,413.92 L69.31,413.58 L69.93,413.21 L70.55,412.81 L71.17,412.39 L71.79,411.93 L72.41,411.45 L73.03,410.94 L73.65,410.40 L74.28,409.84 L74.90,409.25 L75.52,408.64 L76.14,408.00 L76.76,407.34 L77.38,406.66 L78.00,405.95 L78.62,405.22 L79.24,404.46 L79.86,403.69 L80.48,402.89 L81.10,402.07 L81.72,401.24 L82.34,400.38 L82.96,399.50 L83.58,398.61 L84.20,397.69 L84.82,396.76 L85.45,395.81 L86.07,394.84 L86.69,393.86 L87.31,392.86 L87.93,391.85 L88.55,390.82 L89.17,389.77 L89.79,388.71 L90.41,387.64 L91.03,386.56 L91.65,385.46 L92.27,384.35 L92.89,383.23 L93.51,382.09 L94.13,380.95 L94.75,379.79 L95.37,378.63 L95.99,377.46 L96.62,376.27 L97.24,375.08 L97.86,373.89 L98.48,372.68 L99.10,371.48 L99.72,370.28 L100.34,369.08 L100.96,367.88 L101.58,366.69 L102.20,365.51 L102.82,364.34 L103.44,363.18 L104.06,362.04 L104.68,360.92 L105.30,359.81 L105.92,358.73 L106.54,357.67 L107.16,356.64 L107.79,355.63 L108.41,354.66 L109.03,353.71 L109.65,352.80 L110.27,351.93 L110.89,351.10 L111.51,350.31 L112.13,349.56 L112.75,348.86 L113.37,348.20 L113.99,347.59 L114.61,347.04 L115.23,346.54 L115.85,346.09 L116.47,345.71 L117.09,345.38 L117.71,345.11 L118.33,344.92 L118.96,344.78 L119.58,344.72 L120.20,344.73 L120.82,344.81 L121.44,344.96 L122.06,345.19 L122.68,345.51 L123.30,345.90 L123.92,346.38 L124.54,346.94 L125.16,347.59 L125.78,348.33 L126.40,349.14 L127.02,350.04 L127.64,351.01 L128.26,352.05 L128.88,353.17 L129.50,354.36 L130.13,355.61 L130.75,356.93 L131.37,358.31 L131.99,359.75 L132.61,361.24 L133.23,362.79 L133.85,364.39 L134.47,366.04 L135.09,367.74 L135.71,369.49 L136.33,371.27 L136.95,373.10 L137.57,374.96 L138.19,376.86 L138.81,378.79 L139.43,380.75 L140.05,382.74 L140.67,384.75 L141.29,386.76 L141.92,388.75 L142.54,390.69 L143.16,392.58 L143.78,394.37 L144.40,396.06 L145.02,397.62 L145.64,399.03 L146.26,400.30 L146.88,401.44 L147.50,402.47 L148.12,403.39 L148.74,404.22 L149.36,404.96 L149.98,405.64 L150.60,406.26 L151.22,406.83 L151.84,407.36 L152.46,407.86 L153.09,408.32 L153.71,408.76 L154.33,409.16 L154.95,409.53 L155.57,409.87 L156.19,410.19 L156.81,410.47 L157.43,410.74 L158.05,410.97 L158.67,411.19 L159.29,411.38 L159.91,411.54 L160.53,411.69 L161.15,411.82 L161.77,411.93 L162.39,412.02 L163.01,412.09 L163.63,412.15 L164.26,412.19 L164.88,412.22 L165.50,412.24 L166.12,412.24 L166.74,412.24 L167.36,412.22 L167.98,412.20 L168.60,412.17 L169.22,412.13 L169.84,412.08 L170.46,412.04 L171.08,411.98 L171.70,411.93 L172.32,411.87 L172.94,411.82 L173.56,411.76 L174.18,411.71 L174.80,411.65 L175.43,411.59 L176.05,411.53 L176.67,411.48 L177.29,411.42 L177.91,411.36 L178.53,411.30 L179.15,411.25 L179.77,411.19 L180.39,411.28 L181.01,411.22 L181.63,411.16 L182.25,411.10 L182.87,411.04 L183.49,410.99 L184.11,410.92 L184.73,410.86 L185.35,410.80 L185.97,410.73 L186.60,410.66 L187.22,410.58 L187.84,410.50 L188.46,410.41 L189.08,410.32 L189.70,410.22 L190.32,410.12 L190.94,410.00 L191.56,409.88 L192.18,409.75 L192.80,409.61 L193.42,409.46 L194.04,409.30 L194.66,409.13 L195.28,408.94 L195.90,408.75 L196.52,408.54 L197.14,408.31 L197.77,408.07 L198.39,407.82 L199.01,407.55 L199.63,407.27 L200.25,406.97 L200.87,406.65 L201.49,406.31 L202.11,405.94 L202.73,405.54 L203.35,405.10 L203.97,404.63 L204.59,404.11 L205.21,403.54 L205.83,402.93 L206.45,402.25 L207.07,401.52 L207.69,400.72 L208.31,399.85 L208.94,398.91 L209.56,397.89 L210.18,396.79 L210.80,395.60 L211.42,394.33 L212.04,392.96 L212.66,391.49 L213.28,389.92 L213.90,388.25 L214.52,386.46 L215.14,384.58 L215.76,382.59 L216.38,380.52 L217.00,378.36 L217.62,376.13 L218.24,373.83 L218.86,371.48 L219.48,369.09 L220.11,366.66 L220.73,364.20 L221.35,361.73 L221.97,359.22 L222.59,356.69 L223.21,354.12 L223.83,351.50 L224.45,348.84 L225.07,346.12 L225.69,343.35 L226.31,340.51 L226.93,337.62 L227.55,334.69 L228.17,331.74 L228.79,328.78 L229.41,325.81 L230.03,322.87 L230.65,319.96 L231.27,317.10 L231.90,314.30 L232.52,311.56 L233.14,308.91 L233.76,306.34 L234.38,303.85 L235.00,301.47 L235.62,299.19 L236.24,297.04 L236.86,295.04 L237.48,293.21 L238.10,291.56 L238.72,290.12 L239.34,288.91 L239.96,287.95 L240.58,287.26 L241.20,286.85 L241.82,286.74 L242.44,286.89 L243.07,287.29 L243.69,287.91 L244.31,288.73 L244.93,289.72 L245.55,290.86 L246.17,292.13 L246.79,293.50 L247.41,294.94 L248.03,296.44 L248.65,297.97 L249.27,299.52 L249.89,301.10 L250.51,302.72 L251.13,304.38 L251.75,306.09 L252.37,307.86 L252.99,309.70 L253.61,311.61 L254.24,313.60 L254.86,315.67 L255.48,317.84 L256.10,320.09 L256.72,322.45 L257.34,324.91 L257.96,327.48 L258.58,330.14 L259.20,332.87 L259.82,335.62 L260.44,338.39 L261.06,341.14 L261.68,343.85 L262.30,346.50 L262.92,349.06 L263.54,351.56 L264.16,353.98 L264.78,356.32 L265.41,358.60 L266.03,360.81 L266.65,362.95 L267.27,365.03 L267.89,367.04 L268.51,368.99 L269.13,370.88 L269.75,372.71 L270.37,374.48 L270.99,376.20 L271.61,377.86 L272.23,379.47 L272.85,381.02 L273.47,382.52 L274.09,383.98 L274.71,385.39 L275.33,386.75 L275.95,388.07 L276.58,389.34 L277.20,390.58 L277.82,391.77 L278.44,392.93 L279.06,394.05 L279.68,395.13 L280.30,396.18 L280.92,397.20 L281.54,398.19 L282.16,399.15 L282.78,400.08 L283.40,400.98 L284.02,401.86 L284.64,402.71 L285.26,403.53 L285.88,404.33 L286.50,405.09 L287.12,405.83 L287.75,406.55 L288.37,407.23 L288.99,407.89 L289.61,408.52 L290.23,409.12 L290.85,409.69 L291.47,410.24 L292.09,410.75 L292.71,411.24 L293.33,411.70 L293.95,412.13 L294.57,412.53 L295.19,412.90 L295.81,413.24 L296.43,413.56 L297.05,413.84 L297.67,414.10 L298.29,414.32 L298.92,414.52 L299.54,414.68 L300.16,414.82 L300.78,414.92 L301.40,415.00 L302.02,415.04 L302.64,415.06 L303.26,415.04 L303.88,414.99 L304.50,414.92 L304.50,416.43 L303.88,416.49 L303.26,416.53 L302.64,416.54 L302.02,416.53 L301.40,416.49 L300.78,416.43 L300.16,416.34 L299.54,416.23 L298.92,416.09 L298.29,415.93 L297.67,415.75 L297.05,415.54 L296.43,415.30 L295.81,415.04 L295.19,414.76 L294.57,414.45 L293.95,414.12 L293.33,413.77 L292.71,413.39 L292.09,412.98 L291.47,412.56 L290.85,412.11 L290.23,411.63 L289.61,411.14 L288.99,410.62 L288.37,410.07 L287.75,409.51 L287.12,408.92 L286.50,408.31 L285.88,407.67 L285.26,407.02 L284.64,406.34 L284.02,405.63 L283.40,404.91 L282.78,404.16 L282.16,403.39 L281.54,402.60 L280.92,401.78 L280.30,400.94 L279.68,400.07 L279.06,399.18 L278.44,398.25 L277.82,397.30 L277.20,396.31 L276.58,395.29 L275.95,394.24 L275.33,393.15 L274.71,392.02 L274.09,390.86 L273.47,389.65 L272.85,388.41 L272.23,387.13 L271.61,385.80 L270.99,384.43 L270.37,383.01 L269.75,381.54 L269.13,380.03 L268.51,378.47 L267.89,376.86 L267.27,375.20 L266.65,373.48 L266.03,371.71 L265.41,369.88 L264.78,368.00 L264.16,366.06 L263.54,364.06 L262.92,362.00 L262.30,359.88 L261.68,357.69 L261.06,355.45 L260.44,353.18 L259.82,350.89 L259.20,348.61 L258.58,346.36 L257.96,344.16 L257.34,342.04 L256.72,340.00 L256.10,338.06 L255.48,336.19 L254.86,334.40 L254.24,332.69 L253.61,331.05 L252.99,329.47 L252.37,327.95 L251.75,326.48 L251.13,325.07 L250.51,323.69 L249.89,322.36 L249.27,321.05 L248.65,319.77 L248.03,318.51 L247.41,317.27 L246.79,316.07 L246.17,314.94 L245.55,313.90 L244.93,312.95 L244.31,312.14 L243.69,311.46 L243.07,310.95 L242.44,310.61 L241.82,310.49 L241.20,310.58 L240.58,310.92 L239.96,311.49 L239.34,312.29 L238.72,313.29 L238.10,314.47 L237.48,315.83 L236.86,317.35 L236.24,319.00 L235.62,320.78 L235.00,322.66 L234.38,324.63 L233.76,326.69 L233.14,328.81 L232.52,331.01 L231.90,333.27 L231.27,335.58 L230.65,337.95 L230.03,340.35 L229.41,342.78 L228.79,345.23 L228.17,347.68 L227.55,350.12 L226.93,352.54 L226.31,354.93 L225.69,357.28 L225.07,359.57 L224.45,361.81 L223.83,364.01 L223.21,366.17 L222.59,368.30 L221.97,370.40 L221.35,372.46 L220.73,374.51 L220.11,376.54 L219.48,378.55 L218.86,380.53 L218.24,382.47 L217.62,384.37 L217.00,386.21 L216.38,387.99 L215.76,389.71 L215.14,391.35 L214.52,392.91 L213.90,394.38 L213.28,395.77 L212.66,397.07 L212.04,398.28 L211.42,399.41 L210.80,400.46 L210.18,401.44 L209.56,402.35 L208.94,403.19 L208.31,403.97 L207.69,404.69 L207.07,405.35 L206.45,405.96 L205.83,406.52 L205.21,407.03 L204.59,407.49 L203.97,407.92 L203.35,408.32 L202.73,408.68 L202.11,409.01 L201.49,409.31 L200.87,409.59 L200.25,409.86 L199.63,410.11 L199.01,410.34 L198.39,410.56 L197.77,410.77 L197.14,410.97 L196.52,411.15 L195.90,411.33 L195.28,411.49 L194.66,411.64 L194.04,411.78 L193.42,411.92 L192.80,412.04 L192.18,412.16 L191.56,412.26 L190.94,412.37 L190.32,412.46 L189.70,412.55 L189.08,412.63 L188.46,412.71 L187.84,412.78 L187.22,412.84 L186.60,412.91 L185.97,412.96 L185.35,413.02 L184.73,413.07 L184.11,413.13 L183.49,413.18 L182.87,413.23 L182.25,413.27 L181.63,413.32 L181.01,413.37 L180.39,413.42 L179.77,413.61 L179.15,413.66 L178.53,413.70 L177.91,413.75 L177.29,413.79 L176.67,413.84 L176.05,413.88 L175.43,413.93 L174.80,413.97 L174.18,414.02 L173.56,414.06 L172.94,414.10 L172.32,414.15 L171.70,414.19 L171.08,414.23 L170.46,414.27 L169.84,414.31 L169.22,414.34 L168.60,414.37 L167.98,414.40 L167.36,414.42 L166.74,414.43 L166.12,414.43 L165.50,414.43 L164.88,414.42 L164.26,414.39 L163.63,414.36 L163.01,414.31 L162.39,414.26 L161.77,414.19 L161.15,414.10 L160.53,414.00 L159.91,413.89 L159.29,413.76 L158.67,413.61 L158.05,413.45 L157.43,413.26 L156.81,413.06 L156.19,412.83 L155.57,412.59 L154.95,412.32 L154.33,412.03 L153.71,411.72 L153.09,411.38 L152.46,411.02 L151.84,410.63 L151.22,410.22 L150.60,409.78 L149.98,409.30 L149.36,408.77 L148.74,408.19 L148.12,407.55 L147.50,406.83 L146.88,406.03 L146.26,405.14 L145.64,404.15 L145.02,403.06 L144.40,401.85 L143.78,400.53 L143.16,399.14 L142.54,397.67 L141.92,396.16 L141.29,394.61 L140.67,393.05 L140.05,391.48 L139.43,389.94 L138.81,388.41 L138.19,386.91 L137.57,385.44 L136.95,383.99 L136.33,382.57 L135.71,381.18 L135.09,379.82 L134.47,378.50 L133.85,377.22 L133.23,375.97 L132.61,374.76 L131.99,373.60 L131.37,372.48 L130.75,371.41 L130.13,370.39 L129.50,369.41 L128.88,368.49 L128.26,367.62 L127.64,366.81 L127.02,366.05 L126.40,365.35 L125.78,364.72 L125.16,364.15 L124.54,363.64 L123.92,363.21 L123.30,362.83 L122.68,362.53 L122.06,362.28 L121.44,362.10 L120.82,361.98 L120.20,361.92 L119.58,361.91 L118.96,361.96 L118.33,362.07 L117.71,362.22 L117.09,362.43 L116.47,362.68 L115.85,362.98 L115.23,363.33 L114.61,363.72 L113.99,364.15 L113.37,364.62 L112.75,365.13 L112.13,365.68 L111.51,366.26 L110.89,366.88 L110.27,367.53 L109.65,368.20 L109.03,368.91 L108.41,369.64 L107.79,370.40 L107.16,371.18 L106.54,371.99 L105.92,372.81 L105.30,373.65 L104.68,374.51 L104.06,375.39 L103.44,376.28 L102.82,377.18 L102.20,378.09 L101.58,379.00 L100.96,379.93 L100.34,380.86 L99.72,381.79 L99.10,382.73 L98.48,383.67 L97.86,384.60 L97.24,385.53 L96.62,386.46 L95.99,387.38 L95.37,388.29 L94.75,389.20 L94.13,390.09 L93.51,390.98 L92.89,391.87 L92.27,392.74 L91.65,393.60 L91.03,394.46 L90.41,395.30 L89.79,396.13 L89.17,396.96 L88.55,397.77 L87.93,398.57 L87.31,399.36 L86.69,400.14 L86.07,400.90 L85.45,401.65 L84.82,402.39 L84.20,403.12 L83.58,403.83 L82.96,404.52 L82.34,405.21 L81.72,405.87 L81.10,406.52 L80.48,407.16 L79.86,407.78 L79.24,408.38 L78.62,408.97 L78.00,409.54 L77.38,410.09 L76.76,410.62 L76.14,411.14 L75.52,411.63 L74.90,412.11 L74.28,412.56 L73.65,413.00 L73.03,413.42 L72.41,413.81 L71.79,414.19 L71.17,414.54 L70.55,414.88 L69.93,415.19 L69.31,415.47 L68.69,415.74 L68.07,415.98 L67.45,416.20 L66.83,416.39 L66.21,416.56 L65.59,416.71 L64.97,416.83 L64.35,416.92 L63.73,416.99 L63.11,417.03 L62.48,417.05 L61.86,417.04 L61.24,417.00 L60.62,416.93 L60.00,416.84 L59.38,416.72 L58.76,416.57 L58.14,416.39 L57.52,416.18 L56.90,415.94Z" fill="#ff0000" fill-opacity="0.25" stroke="#ff0000" stroke-opacity="0.15" stroke-width="0.6" clip-path="url(#clipC)"/>
<path d="M56.90,415.06 L57.52,415.33 L58.14,415.57 L58.76,415.78 L59.38,415.95 L60.00,416.09 L60.62,416.20 L61.24,416.27 L61.86,416.32 L62.48,416.33 L63.11,416.31 L63.73,416.26 L64.35,416.18 L64.97,416.07 L65.59,415.94 L66.21,415.77 L66.83,415.58 L67.45,415.36 L68.07,415.11 L68.69,414.83 L69.31,414.53 L69.93,414.20 L70.55,413.84 L71.17,413.46 L71.79,413.06 L72.41,412.63 L73.03,412.18 L73.65,411.70 L74.28,411.20 L74.90,410.68 L75.52,410.14 L76.14,409.57 L76.76,408.98 L77.38,408.37 L78.00,407.74 L78.62,407.09 L79.24,406.42 L79.86,405.73 L80.48,405.03 L81.10,404.30 L81.72,403.55 L82.34,402.79 L82.96,402.01 L83.58,401.22 L84.20,400.40 L84.82,399.58 L85.45,398.73 L86.07,397.87 L86.69,397.00 L87.31,396.11 L87.93,395.21 L88.55,394.29 L89.17,393.37 L89.79,392.42 L90.41,391.47 L91.03,390.51 L91.65,389.53 L92.27,388.54 L92.89,387.55 L93.51,386.54 L94.13,385.52 L94.75,384.49 L95.37,383.46 L95.99,382.42 L96.62,381.37 L97.24,380.31 L97.86,379.24 L98.48,378.17 L99.10,377.10 L99.72,376.04 L100.34,374.97 L100.96,373.90 L101.58,372.85 L102.20,371.80 L102.82,370.76 L103.44,369.73 L104.06,368.71 L104.68,367.72 L105.30,366.73 L105.92,365.77 L106.54,364.83 L107.16,363.91 L107.79,363.02 L108.41,362.15 L109.03,361.31 L109.65,360.50 L110.27,359.73 L110.89,358.99 L111.51,358.29 L112.13,357.62 L112.75,356.99 L113.37,356.41 L113.99,355.87 L114.61,355.38 L115.23,354.93 L115.85,354.54 L116.47,354.19 L117.09,353.90 L117.71,353.67 L118.33,353.49 L118.96,353.37 L119.58,353.32 L120.20,353.32 L120.82,353.39 L121.44,353.53 L122.06,353.74 L122.68,354.02 L123.30,354.37 L123.92,354.79 L124.54,355.29 L125.16,355.87 L125.78,356.52 L126.40,357.25 L127.02,358.04 L127.64,358.91 L128.26,359.84 L128.88,360.83 L129.50,361.88 L130.13,363.00 L130.75,364.17 L131.37,365.39 L131.99,366.67 L132.61,368.00 L133.23,369.38 L133.85,370.80 L134.47,372.27 L135.09,373.78 L135.71,375.33 L136.33,376.92 L136.95,378.54 L137.57,380.20 L138.19,381.89 L138.81,383.60 L139.43,385.34 L140.05,387.11 L140.67,388.90 L141.29,390.68 L141.92,392.45 L142.54,394.18 L143.16,395.86 L143.78,397.45 L144.40,398.95 L145.02,400.34 L145.64,401.59 L146.26,402.72 L146.88,403.74 L147.50,404.65 L148.12,405.47 L148.74,406.20 L149.36,406.87 L149.98,407.47 L150.60,408.02 L151.22,408.52 L151.84,409.00 L152.46,409.44 L153.09,409.85 L153.71,410.24 L154.33,410.60 L154.95,410.93 L155.57,411.23 L156.19,411.51 L156.81,411.77 L157.43,412.00 L158.05,412.21 L158.67,412.40 L159.29,412.57 L159.91,412.72 L160.53,412.85 L161.15,412.96 L161.77,413.06 L162.39,413.14 L163.01,413.20 L163.63,413.25 L164.26,413.29 L164.88,413.32 L165.50,413.33 L166.12,413.34 L166.74,413.33 L167.36,413.32 L167.98,413.30 L168.60,413.27 L169.22,413.24 L169.84,413.20 L170.46,413.15 L171.08,413.11 L171.70,413.06 L172.32,413.01 L172.94,412.96 L173.56,412.91 L174.18,412.86 L174.80,412.81 L175.43,412.76 L176.05,412.71 L176.67,412.66 L177.29,412.61 L177.91,412.56 L178.53,412.50 L179.15,412.45 L179.77,412.40 L180.39,412.35 L181.01,412.29 L181.63,412.24 L182.25,412.19 L182.87,412.14 L183.49,412.08 L184.11,412.03 L184.73,411.97 L185.35,411.91 L185.97,411.85 L186.60,411.78 L187.22,411.71 L187.84,411.64 L188.46,411.56 L189.08,411.48 L189.70,411.39 L190.32,411.29 L190.94,411.18 L191.56,411.07 L192.18,410.95 L192.80,410.83 L193.42,410.69 L194.04,410.54 L194.66,410.38 L195.28,410.21 L195.90,410.04 L196.52,409.84 L197.14,409.64 L197.77,409.42 L198.39,409.19 L199.01,408.95 L199.63,408.69 L200.25,408.41 L200.87,408.12 L201.49,407.81 L202.11,407.47 L202.73,407.11 L203.35,406.71 L203.97,406.28 L204.59,405.80 L205.21,405.29 L205.83,404.72 L206.45,404.10 L207.07,403.43 L207.69,402.70 L208.31,401.91 L208.94,401.05 L209.56,400.12 L210.18,399.11 L210.80,398.03 L211.42,396.87 L212.04,395.62 L212.66,394.28 L213.28,392.84 L213.90,391.31 L214.52,389.69 L215.14,387.96 L215.76,386.15 L216.38,384.25 L217.00,382.28 L217.62,380.25 L218.24,378.15 L218.86,376.01 L219.48,373.82 L220.11,371.60 L220.73,369.36 L221.35,367.10 L221.97,364.81 L222.59,362.49 L223.21,360.15 L223.83,357.76 L224.45,355.33 L225.07,352.85 L225.69,350.31 L226.31,347.72 L226.93,345.08 L227.55,342.41 L228.17,339.71 L228.79,337.00 L229.41,334.30 L230.03,331.61 L230.65,328.96 L231.27,326.34 L231.90,323.78 L232.52,321.29 L233.14,318.86 L233.76,316.51 L234.38,314.24 L235.00,312.06 L235.62,309.98 L236.24,308.02 L236.86,306.19 L237.48,304.52 L238.10,303.02 L238.72,301.70 L239.34,300.60 L239.96,299.72 L240.58,299.09 L241.20,298.72 L241.82,298.61 L242.44,298.75 L243.07,299.12 L243.69,299.69 L244.31,300.43 L244.93,301.34 L245.55,302.38 L246.17,303.54 L246.79,304.79 L247.41,306.11 L248.03,307.47 L248.65,308.87 L249.27,310.28 L249.89,311.73 L250.51,313.21 L251.13,314.72 L251.75,316.29 L252.37,317.91 L252.99,319.58 L253.61,321.33 L254.24,323.15 L254.86,325.04 L255.48,327.01 L256.10,329.07 L256.72,331.23 L257.34,333.48 L257.96,335.82 L258.58,338.25 L259.20,340.74 L259.82,343.26 L260.44,345.79 L261.06,348.30 L261.68,350.77 L262.30,353.19 L262.92,355.53 L263.54,357.81 L264.16,360.02 L264.78,362.16 L265.41,364.24 L266.03,366.26 L266.65,368.22 L267.27,370.11 L267.89,371.95 L268.51,373.73 L269.13,375.46 L269.75,377.13 L270.37,378.75 L270.99,380.31 L271.61,381.83 L272.23,383.30 L272.85,384.72 L273.47,386.09 L274.09,387.42 L274.71,388.71 L275.33,389.95 L275.95,391.15 L276.58,392.32 L277.20,393.44 L277.82,394.54 L278.44,395.59 L279.06,396.61 L279.68,397.60 L280.30,398.56 L280.92,399.49 L281.54,400.39 L282.16,401.27 L282.78,402.12 L283.40,402.94 L284.02,403.75 L284.64,404.52 L285.26,405.27 L285.88,406.00 L286.50,406.70 L287.12,407.38 L287.75,408.03 L288.37,408.65 L288.99,409.25 L289.61,409.83 L290.23,410.38 L290.85,410.90 L291.47,411.40 L292.09,411.87 L292.71,412.31 L293.33,412.73 L293.95,413.12 L294.57,413.49 L295.19,413.83 L295.81,414.14 L296.43,414.43 L297.05,414.69 L297.67,414.92 L298.29,415.13 L298.92,415.31 L299.54,415.46 L300.16,415.58 L300.78,415.68 L301.40,415.74 L302.02,415.79 L302.64,415.80 L303.26,415.78 L303.88,415.74 L304.50,415.67" stroke="#ff0000" stroke-width="2" fill="none" clip-path="url(#clipC)"/>
<path d="M56.90,415.06 L57.52,415.33 L58.14,415.57 L58.76,415.78 L59.38,415.95 L60.00,416.09 L60.62,416.20 L61.24,416.27 L61.86,416.32 L62.48,416.33 L63.11,416.31 L63.73,416.26 L64.35,416.18 L64.97,416.07 L65.59,415.94 L66.21,415.77 L66.83,415.58 L67.45,415.36 L68.07,415.11 L68.69,414.83 L69.31,414.53 L69.93,414.20 L70.55,413.84 L71.17,413.46 L71.79,413.06 L72.41,412.63 L73.03,412.18 L73.65,411.70 L74.28,411.20 L74.90,410.68 L75.52,410.14 L76.14,409.57 L76.76,408.98 L77.38,408.37 L78.00,407.74 L78.62,407.09 L79.24,406.42 L79.86,405.73 L80.48,405.03 L81.10,404.30 L81.72,403.55 L82.34,402.79 L82.96,402.01 L83.58,401.22 L84.20,400.40 L84.82,399.58 L85.45,398.73 L86.07,397.87 L86.69,397.00 L87.31,396.11 L87.93,395.21 L88.55,394.29 L89.17,393.36 L89.79,392.42 L90.41,391.47 L91.03,390.50 L91.65,389.53 L92.27,388.54 L92.89,387.54 L93.51,386.53 L94.13,385.51 L94.75,384.48 L95.37,383.44 L95.99,382.39 L96.62,381.33 L97.24,380.26 L97.86,379.19 L98.48,378.11 L99.10,377.03 L99.72,375.94 L100.34,374.85 L100.96,373.77 L101.58,372.68 L102.20,371.60 L102.82,370.53 L103.44,369.47 L104.06,368.41 L104.68,367.37 L105.30,366.34 L105.92,365.33 L106.54,364.34 L107.16,363.37 L107.79,362.42 L108.41,361.50 L109.03,360.61 L109.65,359.75 L110.27,358.93 L110.89,358.14 L111.51,357.40 L112.13,356.70 L112.75,356.04 L113.37,355.44 L113.99,354.88 L114.61,354.38 L115.23,353.93 L115.85,353.55 L116.47,353.22 L117.09,352.95 L117.71,352.74 L118.33,352.60 L118.96,352.52 L119.58,352.51 L120.20,352.56 L120.82,352.68 L121.44,352.87 L122.06,353.13 L122.68,353.46 L123.30,353.86 L123.92,354.34 L124.54,354.89 L125.16,355.51 L125.78,356.21 L126.40,356.98 L127.02,357.81 L127.64,358.70 L128.26,359.66 L128.88,360.68 L129.50,361.76 L130.13,362.90 L130.75,364.08 L131.37,365.33 L131.99,366.62 L132.61,367.96 L133.23,369.34 L133.85,370.78 L134.47,372.25 L135.09,373.77 L135.71,375.32 L136.33,376.91 L136.95,378.54 L137.57,380.19 L138.19,381.88 L138.81,383.60 L139.43,385.34 L140.05,387.11 L140.67,388.90 L141.29,390.68 L141.92,392.45 L142.54,394.18 L143.16,395.86 L143.78,397.45 L144.40,398.95 L145.02,400.34 L145.64,401.59 L146.26,402.72 L146.88,403.74 L147.50,404.65 L148.12,405.47 L148.74,406.20 L149.36,406.87 L149.98,407.47 L150.60,408.02 L151.22,408.52 L151.84,409.00 L152.46,409.44 L153.09,409.85 L153.71,410.24 L154.33,410.60 L154.95,410.93 L155.57,411.23 L156.19,411.51 L156.81,411.77 L157.43,412.00 L158.05,412.21 L158.67,412.40 L159.29,412.57 L159.91,412.72 L160.53,412.85 L161.15,412.96 L161.77,413.06 L162.39,413.14 L163.01,413.20 L163.63,413.25 L164.26,413.29 L164.88,413.32 L165.50,413.33 L166.12,413.34 L166.74,413.33 L167.36,413.32 L167.98,413.30 L168.60,413.27 L169.22,413.24 L169.84,413.20 L170.46,413.15 L171.08,413.11 L171.70,413.06 L172.32,413.01 L172.94,412.96 L173.56,412.91 L174.18,412.86 L174.80,412.81 L175.43,412.76 L176.05,412.71 L176.67,412.66 L177.29,412.61 L177.91,412.56 L178.53,412.50 L179.15,412.45 L179.77,412.40 L180.39,412.35 L181.01,412.29 L181.63,412.24 L182.25,412.19 L182.87,412.14 L183.49,412.08 L184.11,412.03 L184.73,411.97 L185.35,411.91 L185.97,411.85 L186.60,411.78 L187.22,411.71 L187.84,411.64 L188.46,411.56 L189.08,411.48 L189.70,411.39 L190.32,411.29 L190.94,411.18 L191.56,411.07 L192.18,410.95 L192.80,410.83 L193.42,410.69 L194.04,410.54 L194.66,410.38 L195.28,410.21 L195.90,410.04 L196.52,409.84 L197.14,409.64 L197.77,409.42 L198.39,409.19 L199.01,408.95 L199.63,408.69 L200.25,408.41 L200.87,408.12 L201.49,407.81 L202.11,407.47 L202.73,407.11 L203.35,406.71 L203.97,406.28 L204.59,405.80 L205.21,405.29 L205.83,404.72 L206.45,404.10 L207.07,403.43 L207.69,402.70 L208.31,401.91 L208.94,401.05 L209.56,400.12 L210.18,399.11 L210.80,398.03 L211.42,396.87 L212.04,395.62 L212.66,394.28 L213.28,392.84 L213.90,391.31 L214.52,389.69 L215.14,387.96 L215.76,386.15 L216.38,384.25 L217.00,382.28 L217.62,380.25 L218.24,378.15 L218.86,376.01 L219.48,373.82 L220.11,371.60 L220.73,369.36 L221.35,367.10 L221.97,364.81 L222.59,362.49 L223.21,360.15 L223.83,357.76 L224.45,355.33 L225.07,352.85 L225.69,350.32 L226.31,347.73 L226.93,345.09 L227.55,342.42 L228.17,339.73 L228.79,337.03 L229.41,334.34 L230.03,331.67 L230.65,329.03 L231.27,326.45 L231.90,323.93 L232.52,321.49 L233.14,319.13 L233.76,316.86 L234.38,314.69 L235.00,312.62 L235.62,310.66 L236.24,308.82 L236.86,307.13 L237.48,305.58 L238.10,304.20 L238.72,303.00 L239.34,301.99 L239.96,301.18 L240.58,300.58 L241.20,300.21 L241.82,300.08 L242.44,300.17 L243.07,300.45 L243.69,300.91 L244.31,301.54 L244.93,302.32 L245.55,303.23 L246.17,304.25 L246.79,305.38 L247.41,306.58 L248.03,307.85 L248.65,309.16 L249.27,310.51 L249.89,311.89 L250.51,313.33 L251.13,314.81 L251.75,316.35 L252.37,317.95 L252.99,319.61 L253.61,321.35 L254.24,323.16 L254.86,325.05 L255.48,327.02 L256.10,329.08 L256.72,331.23 L257.34,333.48 L257.96,335.83 L258.58,338.25 L259.20,340.74 L259.82,343.26 L260.44,345.79 L261.06,348.30 L261.68,350.77 L262.30,353.19 L262.92,355.53 L263.54,357.81 L264.16,360.02 L264.78,362.16 L265.41,364.24 L266.03,366.26 L266.65,368.22 L267.27,370.11 L267.89,371.95 L268.51,373.73 L269.13,375.46 L269.75,377.13 L270.37,378.75 L270.99,380.31 L271.61,381.83 L272.23,383.30 L272.85,384.72 L273.47,386.09 L274.09,387.42 L274.71,388.71 L275.33,389.95 L275.95,391.15 L276.58,392.32 L277.20,393.44 L277.82,394.54 L278.44,395.59 L279.06,396.61 L279.68,397.60 L280.30,398.56 L280.92,399.49 L281.54,400.39 L282.16,401.27 L282.78,402.12 L283.40,402.94 L284.02,403.75 L284.64,404.52 L285.26,405.27 L285.88,406.00 L286.50,406.70 L287.12,407.38 L287.75,408.03 L288.37,408.65 L288.99,409.25 L289.61,409.83 L290.23,410.38 L290.85,410.90 L291.47,411.40 L292.09,411.87 L292.71,412.31 L293.33,412.73 L293.95,413.12 L294.57,413.49 L295.19,413.83 L295.81,414.14 L296.43,414.43 L297.05,414.69 L297.67,414.92 L298.29,415.13 L298.92,415.31 L299.54,415.46 L300.16,415.58 L300.78,415.68 L301.40,415.74 L302.02,415.79 L302.64,415.80 L303.26,415.78 L303.88,415.74 L304.50,415.67" stroke="#000" stroke-width="2.1" fill="none" stroke-dasharray="4.5,4" clip-path="url(#clipC)"/>
<rect x="56.9" y="265" width="247.6" height="152.3" fill="none" stroke="#6a6a6a" stroke-width="1.15"/>
<path d="M180.7,417.3v-3M180.7,265v3" stroke="#777" stroke-width="0.8"/>
<path d="M56.9,349.6111111111111h3M304.5,349.6111111111111h-3" stroke="#777" stroke-width="0.8"/>
<path d="M56.9,281.9222222222222h3M304.5,281.9222222222222h-3" stroke="#777" stroke-width="0.8"/>
<text x="56.90" y="434.8" font-family="'DejaVu Sans', sans-serif" font-size="20" text-anchor="middle" >0</text>
<text x="180.70" y="434.8" font-family="'DejaVu Sans', sans-serif" font-size="20" text-anchor="middle" >1</text>
<text x="304.50" y="434.8" font-family="'DejaVu Sans', sans-serif" font-size="20" text-anchor="middle" >2</text>
<text x="54" y="287.62" font-family="'DejaVu Sans', sans-serif" font-size="20" text-anchor="end" >4</text>
<text x="54" y="355.31" font-family="'DejaVu Sans', sans-serif" font-size="20" text-anchor="end" >2</text>
<text x="54" y="423.00" font-family="'DejaVu Sans', sans-serif" font-size="20" text-anchor="end" >0</text>
<text x="181.5" y="455.5" font-family="'Liberation Serif', serif" font-size="32" text-anchor="middle" font-style="italic" stroke="#000" stroke-width="0.45">x</text>
<text transform="translate(31.6,344.5) rotate(-90) scale(0.922,0.47)" font-family="'DejaVu Sans', sans-serif" font-weight="bold" font-size="20" text-anchor="middle" stroke="#000" stroke-width="0.8">density</text>
<text x="3.2" y="269.2" font-family="'Liberation Sans', sans-serif" font-size="21.5" text-anchor="start" font-weight="bold" textLength="13.5" lengthAdjust="spacingAndGlyphs">C</text>
<path d="M406.20,276.70 L420.30,304.70 L448.50,333.90 L495.90,354.50 L542.50,361.90 L589.20,364.20 L636.10,367.70 L636.10,377.50 L589.20,373.20 L542.50,370.70 L495.90,362.00 L448.50,340.90 L420.30,308.70 L406.20,278.70Z" fill="#22bbbb" fill-opacity="0.3" stroke="#999" stroke-opacity="0.5" stroke-width="0.6" clip-path="url(#clipD)"/>
<path d="M406.20,277.70 L420.30,306.70 L448.50,336.90 L495.90,358.00 L542.50,366.20 L589.20,368.70 L636.10,373.60" stroke="#22bbbb" stroke-width="2" fill="none" clip-path="url(#clipD)"/>
<path d="M406.20,375.00 L420.30,376.40 L448.50,376.50 L495.90,377.50 L542.50,377.90 L589.20,376.50 L636.10,378.50 L636.10,389.20 L589.20,383.40 L542.50,387.30 L495.90,387.00 L448.50,386.00 L420.30,387.60 L406.20,397.50Z" fill="#ff0000" fill-opacity="0.25" stroke="#ff0000" stroke-opacity="0.15" stroke-width="0.6" clip-path="url(#clipD)"/>
<path d="M406.20,386.20 L408.52,385.31 L410.84,384.43 L413.17,383.62 L415.49,382.91 L417.81,382.36 L420.13,382.02 L422.46,381.81 L424.78,381.61 L427.10,381.43 L429.42,381.27 L431.74,381.12 L434.07,380.99 L436.39,380.88 L438.71,380.78 L441.03,380.71 L443.36,380.65 L445.68,380.62 L448.00,380.60 L450.32,380.61 L452.64,380.63 L454.97,380.67 L457.29,380.73 L459.61,380.79 L461.93,380.87 L464.26,380.96 L466.58,381.06 L468.90,381.15 L471.22,381.26 L473.54,381.36 L475.87,381.46 L478.19,381.56 L480.51,381.65 L482.83,381.74 L485.16,381.82 L487.48,381.88 L489.80,381.94 L492.12,381.97 L494.44,382.00 L496.77,382.00 L499.09,382.00 L501.41,382.00 L503.73,382.00 L506.06,382.00 L508.38,382.00 L510.70,382.00 L513.02,382.00 L515.34,382.00 L517.67,382.00 L519.99,382.00 L522.31,382.00 L524.63,382.00 L526.96,382.00 L529.28,382.00 L531.60,382.00 L533.92,382.00 L536.24,382.00 L538.57,382.00 L540.89,382.00 L543.21,382.00 L545.53,381.97 L547.86,381.91 L550.18,381.82 L552.50,381.71 L554.82,381.57 L557.14,381.42 L559.47,381.25 L561.79,381.07 L564.11,380.89 L566.43,380.70 L568.76,380.52 L571.08,380.34 L573.40,380.16 L575.72,380.00 L578.04,379.86 L580.37,379.73 L582.69,379.63 L585.01,379.56 L587.33,379.51 L589.66,379.50 L591.98,379.52 L594.30,379.55 L596.62,379.61 L598.94,379.69 L601.27,379.79 L603.59,379.91 L605.91,380.05 L608.23,380.21 L610.56,380.39 L612.88,380.58 L615.20,380.79 L617.52,381.02 L619.84,381.27 L622.17,381.53 L624.49,381.80 L626.81,382.10 L629.13,382.40 L631.46,382.72 L633.78,383.05 L636.10,383.40" stroke="#ff0000" stroke-width="2" fill="none" clip-path="url(#clipD)"/>
<path d="M402,381.8H636.5" stroke="#111" stroke-width="1.9" stroke-dasharray="3.9,3.9"/>
<rect x="402" y="269.5" width="234.5" height="143.5" fill="none" stroke="#6a6a6a" stroke-width="1.15"/>
<path d="M495.8,413v-3M495.8,269.5v3" stroke="#777" stroke-width="0.8"/>
<path d="M589.6,413v-3M589.6,269.5v3" stroke="#777" stroke-width="0.8"/>
<path d="M402,341.25h3M636.5,341.25h-3" stroke="#777" stroke-width="0.8"/>
<text x="402.00" y="430.4" font-family="'DejaVu Sans', sans-serif" font-size="20" text-anchor="middle" >0</text>
<text x="495.80" y="430.4" font-family="'DejaVu Sans', sans-serif" font-size="20" text-anchor="middle" >1</text>
<text x="589.60" y="430.4" font-family="'DejaVu Sans', sans-serif" font-size="20" text-anchor="middle" >2</text>
<text x="397.5" y="275.00" font-family="'DejaVu Sans', sans-serif" font-size="20" text-anchor="end" >1.0</text>
<text x="397.5" y="346.75" font-family="'DejaVu Sans', sans-serif" font-size="20" text-anchor="end" >0.6</text>
<text x="397.5" y="418.50" font-family="'DejaVu Sans', sans-serif" font-size="20" text-anchor="end" >0.2</text>
<text x="520.3" y="456.8" font-family="'Liberation Sans', sans-serif" font-size="20" text-anchor="middle" textLength="164" lengthAdjust="spacingAndGlyphs">trajectory length</text>
<text transform="translate(361.2,346.3) rotate(-90) scale(0.898,0.56)" font-family="'DejaVu Sans', sans-serif" font-weight="bold" font-size="20" text-anchor="middle" stroke="#000" stroke-width="0.8">Prob (state I)</text>
<text x="333.4" y="268.8" font-family="'Liberation Sans', sans-serif" font-size="22" text-anchor="start" font-weight="bold" textLength="15.6" lengthAdjust="spacingAndGlyphs">D</text>
<rect x="0" y="491.1" width="25" height="3.8" fill="#00b050"/>
<text x="27.3" y="500" font-family="'Liberation Sans', sans-serif" font-size="19.5" text-anchor="start" textLength="160" lengthAdjust="spacingAndGlyphs">symmetrized TICA</text>
<rect x="203" y="491.1" width="25.19999999999999" height="3.8" fill="#ff0000"/>
<text x="231.2" y="500" font-family="'Liberation Sans', sans-serif" font-size="19.5" text-anchor="start" textLength="159" lengthAdjust="spacingAndGlyphs">Nonrev. Koopman</text>
<rect x="412" y="491.1" width="25.30000000000001" height="3.8" fill="#0070c0"/>
<text x="439.2" y="500" font-family="'Liberation Sans', sans-serif" font-size="19.5" text-anchor="start" textLength="126" lengthAdjust="spacingAndGlyphs">Rev. Koopman</text>
<rect x="203" y="520.1" width="25.19999999999999" height="3.8" fill="#00ffff"/>
<text x="229.6" y="526.6" font-family="'Liberation Sans', sans-serif" font-size="19.5" text-anchor="start" textLength="80.8" lengthAdjust="spacingAndGlyphs">Counting</text>
<rect x="414.3" y="520.1" width="14.300000000000011" height="3.8" fill="#000000"/>
<text x="440" y="526.6" font-family="'Liberation Sans', sans-serif" font-size="19.5" text-anchor="start" textLength="37" lengthAdjust="spacingAndGlyphs">True</text></svg>
</body></html>
